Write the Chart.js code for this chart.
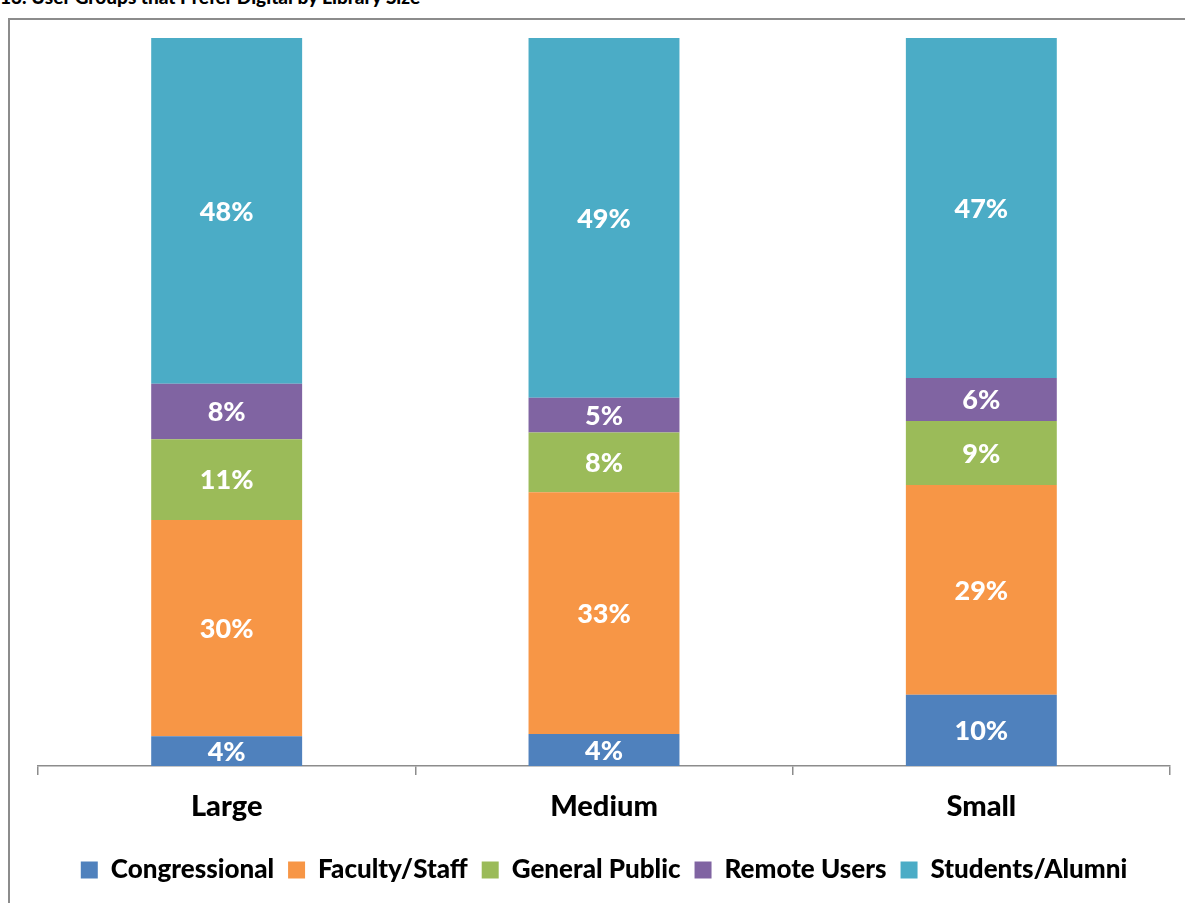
<!DOCTYPE html>
<html>
<head>
<meta charset="utf-8">
<script src="https://cdn.jsdelivr.net/npm/chart.js@4.4.0/dist/chart.umd.min.js"></script>
<style>
  html, body { margin: 0; padding: 0; background: #fff; overflow: hidden; }
  #wrap { position: relative; width: 1185px; height: 903px; }
  #titulo { position: absolute; left: 0; top: -15px; font: 900 19px Lato, sans-serif; color: #000; white-space: nowrap; }
  #grafico { position: absolute; left: 0; top: 0; }
</style>
</head>
<body>
<div id="wrap">
  <div id="titulo">13. User Groups that Prefer Digital by Library Size</div>
  <canvas id="grafico" width="1185" height="903"></canvas>
</div>
<script>
// dados (%)
const categorias = ['Large', 'Medium', 'Small'];
const congressional = [4.1, 4.4, 9.8];
const faculdade = [29.7, 33.2, 28.8];
const publicoGeral = [11.1, 8.2, 8.8];
const remotos = [7.6, 4.8, 5.9];
const estudantes = [47.5, 49.4, 46.7];
const series = ['Congressional', 'Faculty/Staff', 'General Public', 'Remote Users', 'Students/Alumni'];
const cores = ['#4F81BD', '#F79646', '#9BBB59', '#8064A2', '#4BACC6'];

const valores = [congressional, faculdade, publicoGeral, remotos, estudantes];
const fonte = 'Lato, "Open Sans", sans-serif';

// === MOLDURA ===
const moldura = {
  id: 'moldura',
  beforeDraw(chart) {
    const ctx = chart.ctx;
    ctx.save();
    ctx.strokeStyle = '#8c8c8c';
    ctx.lineWidth = 2;
    ctx.beginPath();
    ctx.moveTo(9, 903);
    ctx.lineTo(9, 19);
    ctx.lineTo(1185, 19);
    ctx.stroke();
    ctx.restore();
  }
};

// === RÓTULOS NAS BARRAS ===
const rotulos = {
  id: 'rotulos',
  afterDatasetsDraw(chart) {
    const ctx = chart.ctx;
    ctx.save();
    ctx.fillStyle = '#fff';
    ctx.font = '900 27px ' + fonte;
    ctx.textAlign = 'center';
    ctx.textBaseline = 'middle';
    chart.data.datasets.forEach((ds, i) => {
      chart.getDatasetMeta(i).data.forEach((bar, j) => {
        const y = (bar.y + bar.base) / 2;
        ctx.fillText(Math.round(ds.data[j]) + '%', bar.x, y + 1);
      });
    });
    ctx.restore();
  }
};

new Chart(document.getElementById('grafico'), {
  type: 'bar',
  data: {
    labels: categorias,
    datasets: series.map((nome, i) => ({
      label: nome,
      data: valores[i],
      backgroundColor: cores[i],
      borderWidth: 0,
      categoryPercentage: 1,
      barPercentage: 0.4
    }))
  },
  options: {
    responsive: false,
    animation: false,
    layout: { padding: { left: 38, right: 15, top: 38, bottom: 10 } },
    plugins: {
      tooltip: { enabled: false },
      legend: {
        position: 'bottom',
        labels: {
          color: '#000',
          font: { family: fonte, size: 26, weight: '900' },
          boxWidth: 17,
          boxHeight: 17,
          padding: 14
        }
      }
    },
    scales: {
      x: {
        stacked: true,
        grid: { display: true, drawOnChartArea: false, drawTicks: true, tickLength: 9, color: '#8c8c8c', offset: true, lineWidth: 1.5 },
        border: { color: '#8c8c8c', width: 1.5 },
        ticks: { color: '#000', padding: 14, font: { family: fonte, size: 29, weight: '900' } },
        afterFit(scale) { scale.height = 77; }
      },
      y: {
        stacked: true,
        display: false,
        min: 0,
        max: 100
      }
    }
  },
  plugins: [moldura, rotulos]
});
</script>
</body>
</html>
